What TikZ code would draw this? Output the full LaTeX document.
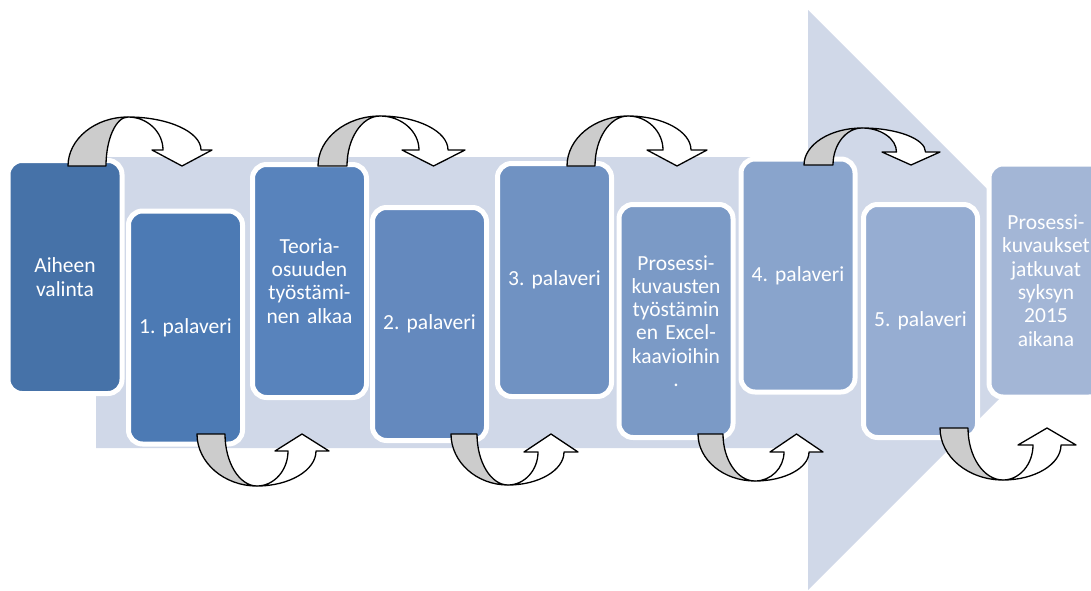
\documentclass[tikz,border=0pt]{standalone}
\usepackage{fontspec}
\setmainfont{Carlito}
\frenchspacing
\definecolor{bgc}{RGB}{208,216,232}
\definecolor{cA}{RGB}{70,114,168}
\definecolor{cB}{RGB}{76,122,180}
\definecolor{cC}{RGB}{88,131,188}
\definecolor{cD}{RGB}{100,137,190}
\definecolor{cE}{RGB}{112,146,194}
\definecolor{cF}{RGB}{123,154,198}
\definecolor{cG}{RGB}{137,164,204}
\definecolor{cH}{RGB}{150,173,210}
\definecolor{cI}{RGB}{163,182,214}
\definecolor{agrey}{RGB}{204,204,204}
\tikzset{
  pbox/.style={draw=white, line width=5pt, rounded corners=14pt,
    minimum width=114pt, minimum height=233pt, inner sep=0pt,
    text width=110pt, align=center, text=white,
    font=\fontsize{21.5}{23.3}\selectfont},
  arrgrey/.style={fill=agrey, draw=black, line width=1.3pt, line join=round},
  arrwhite/.style={fill=white, draw=black, line width=1.3pt, line join=round}
}
\newcommand\mkcurvarrow[8]{%
  \pgfmathsetmacro\cT{(#6+#7)/2}%
  \pgfmathsetmacro\cH{(#2-#1)/2}%
  \pgfmathsetmacro\cI{\cT-\cH}%
  \pgfmathsetmacro\cO{\cT+\cH}%
  \filldraw[arrgrey] (#1,#3) .. controls (#1,{#3+0.55*(#5-#3)}) and ({#4+0.55*(#1-#4)},#5) .. (#4,#5)
     .. controls ({#4+0.55*(#2-#4)},#5) and (#2,{#3+0.55*(#5-#3)}) .. (#2,#3) -- cycle;
  \filldraw[arrwhite] (#4,#5) .. controls ({#4+0.55*(\cO-#4)},#5) and (\cO,{#8+0.55*(#5-#8)}) .. (\cO,#8)
     -- (#7,#8) -- (\cT,#3) -- (#6,#8) -- (\cI,#8)
     .. controls (\cI,{#8+0.55*(#5-#8)}) and ({#4+0.55*(\cI-#4)},#5) .. (#4,#5) -- cycle;
}
\begin{document}
\begin{tikzpicture}[x=1pt,y=-1pt]
\useasboundingbox (0,0) rectangle (1091,590);
\clip (0,0) rectangle (1091,590);
% big background arrow
\fill[bgc] (96,157) -- (808,157) -- (808,10) -- (1098,300) -- (808,590) -- (808,448) -- (96,448) -- cycle;
% boxes
\node[pbox, fill=cA] (b1) at (65,277) {Aiheen\\valinta};
\node[pbox, fill=cB] (b2) at (185.5,327.5) {1. palaveri};
\node[pbox, fill=cC] (b3) at (309.5,281) {Teoria-\\osuuden\\työstämi-\\nen alkaa};
\node[pbox, fill=cD] (b4) at (429.5,324) {2. palaveri};
\node[pbox, fill=cE] (b5) at (554.5,280) {3. palaveri};
\node[pbox, fill=cF] (b6) at (676,321) {Prosessi-\\kuvausten\\työstämin\\en Excel-\\kaavioihin\\.};
\node[pbox, fill=cG] (b7) at (798,275.5) {4. palaveri};
\node[pbox, fill=cH] (b8) at (920.5,321) {5. palaveri};
\node[pbox, fill=cI] (b9) at (1046,280.5) {Prosessi-\\kuvaukset\\jatkuvat\\syksyn\\2015\\aikana};
% curved arrows (top)
\mkcurvarrow{68}{106}{166}{128}{117}{152}{212}{150}
\mkcurvarrow{318}{347}{166}{380}{116}{402}{465}{150}
\mkcurvarrow{567}{595}{166}{628}{116}{647}{707}{150}
\mkcurvarrow{804}{833}{165}{862}{128}{882}{940}{152}
% curved arrows (bottom)
\mkcurvarrow{197}{225}{434}{257}{486}{275}{329}{451}
\mkcurvarrow{451}{477}{434}{508}{485}{524}{578}{452}
\mkcurvarrow{698}{723}{434}{755}{481}{770}{823}{452}
\mkcurvarrow{940}{968}{428}{1003}{480}{1018}{1076}{445}
\end{tikzpicture}
\end{document}
